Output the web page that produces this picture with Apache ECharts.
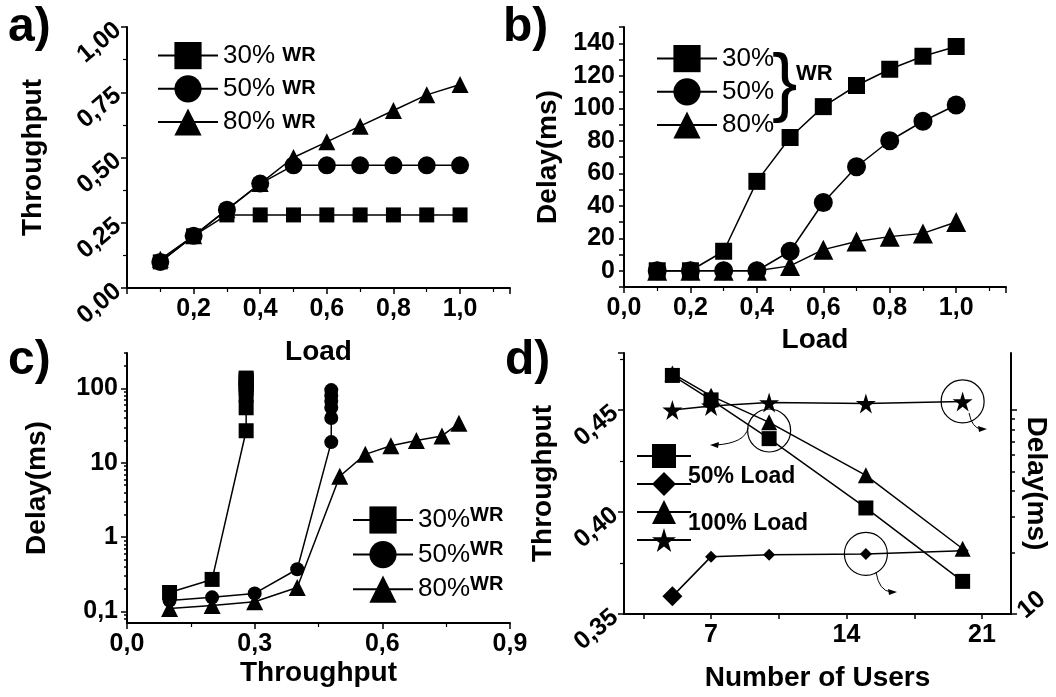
<!DOCTYPE html>
<html><head><meta charset="utf-8">
<script src="https://cdn.jsdelivr.net/npm/echarts@6/dist/echarts.min.js"></script>
<style>html,body{margin:0;padding:0;background:#fff}#c{width:1056px;height:697px}</style>
</head><body><div id="c"></div>
<script>
// ---------- DATA ----------
const loadValues = [0.1, 0.2, 0.3, 0.4, 0.5, 0.6, 0.7, 0.8, 0.9, 1.0];
// a) throughput vs load
const thrWR30 = [0.10, 0.20, 0.28, 0.28, 0.28, 0.28, 0.28, 0.28, 0.28, 0.28];
const thrWR50 = [0.10, 0.20, 0.30, 0.40, 0.47, 0.47, 0.47, 0.47, 0.47, 0.47];
const thrWR80 = [0.11, 0.20, 0.30, 0.40, 0.50, 0.56, 0.62, 0.68, 0.74, 0.78];
// b) delay vs load
const delayWR30 = [0, 0, 12, 55, 82, 101, 114, 124, 132, 138];
const delayWR50 = [0, 0, 0, 0, 12, 42, 64, 80, 92, 102];
const delayWR80 = [0, 0, 0, 0, 3, 13, 18, 21, 23, 30];
// c) delay vs throughput (log)
const cThr30 = [0.10, 0.20, 0.28, 0.28, 0.28, 0.28, 0.28, 0.28, 0.28, 0.28];
const cDel30 = [0.18, 0.27, 27, 55, 82, 101, 114, 124, 132, 138];
const cThr50 = [0.10, 0.20, 0.30, 0.40, 0.48, 0.48, 0.48, 0.48, 0.48, 0.48];
const cDel50 = [0.14, 0.155, 0.175, 0.37, 19, 40, 55, 68, 80, 95];
const cThr80 = [0.10, 0.20, 0.30, 0.40, 0.50, 0.56, 0.62, 0.68, 0.74, 0.78];
const cDel80 = [0.11, 0.12, 0.135, 0.21, 6.6, 13, 17, 20, 23, 34];
// d) number of users
const users = [5, 7, 10, 15, 20];
const thrLoad50 = [0.467, 0.455, 0.436, 0.402, 0.366];
const thrLoad100 = [0.468, 0.457, 0.444, 0.418, 0.382];
const delayLoad50 = [12.2, 19.1, 19.5, 19.7, 20.4];
const delayLoad100 = [100, 104.6, 108.6, 107.6, 110];
// tick labels
const dUserTicks = [7, 14, 21];
const dUserMinor = [3.5, 7, 10.5, 14, 17.5, 21];
const bDelayLabels = [0, 20, 40, 60, 80, 100, 120, 140];
const bDelayTicks = [-10, 0, 10, 20, 30, 40, 50, 60, 70, 80, 90, 100, 110, 120, 130, 140, 150];
const cLogLabels = [0.1, 1, 10, 100];
const cLogMinor = [0.08, 0.09, 0.2, 0.3, 0.4, 0.5, 0.6, 0.7, 0.8, 0.9, 2, 3, 4, 5, 6, 7, 8, 9, 20, 30, 40, 50, 60, 70, 80, 90, 200, 300];
const dLogLabels = [10];
const dLogMajor = [10, 100];
const dLogMinor = [20, 30, 40, 50, 60, 70, 80, 90];

// ---------- HELPERS ----------
const F = "'Liberation Sans', Arial, sans-serif";
const comma = (v, n) => Number(v).toFixed(n).replace('.', ',');
const STAR = 'path://M50,0 L61,35 L98,35 L68,57 L79,91 L50,70 L21,91 L32,57 L2,35 L39,35 Z';
function merge(a, b) {
  const o = Array.isArray(a) ? a.slice() : Object.assign({}, a);
  for (const k in b) {
    if (b[k] && typeof b[k] === 'object' && !Array.isArray(b[k]) && typeof b[k] !== 'function' && a && typeof a[k] === 'object') o[k] = merge(a[k], b[k]);
    else o[k] = b[k];
  }
  return o;
}
const baseAxis = {
  type: 'value',
  axisLine: { show: true, onZero: false, lineStyle: { color: '#000', width: 2 } },
  axisTick: { show: true, length: 6, lineStyle: { color: '#000', width: 1.5 } },
  minorTick: { show: true, splitNumber: 2, length: 4, lineStyle: { color: '#000', width: 1.2 } },
  axisLabel: { color: '#000', fontFamily: F, fontWeight: 'bold', fontSize: 25, margin: 9 },
  splitLine: { show: false },
  minorSplitLine: { show: false },
  nameLocation: 'middle',
  nameTextStyle: { color: '#000', fontFamily: F, fontWeight: 'bold', fontSize: 28 }
};
const ax = (extra) => merge(baseAxis, extra);
function lineSeries(name, xi, yi, data, symbol, size, extra) {
  return Object.assign({
    type: 'line', name, xAxisIndex: xi, yAxisIndex: yi, data,
    symbol, symbolSize: size, showSymbol: true,
    lineStyle: { color: '#000', width: 1.5 },
    itemStyle: { color: '#000' },
    emphasis: { disabled: true }, animation: false
  }, extra || {});
}
const pair = (xs, ys) => xs.map((x, i) => [x, ys[i]]);

const legendLabels = { a30: '30%', a50: '50%', a80: '80%', b30: '30%', b50: '50%', b80: '80%', c30: '30%', c50: '50%', c80: '80%' };
const legendBase = {
  orient: 'vertical', selectedMode: false, itemWidth: 60, itemHeight: 34, itemGap: 6,
  lineStyle: { width: 2 },
  textStyle: { color: '#000', fontFamily: F, fontSize: 26,
    rich: {
      n: { fontSize: 26, fontFamily: F, color: '#000' },
      w: { fontSize: 20, fontFamily: F, fontWeight: 'bold', color: '#000' },
      s: { fontSize: 20, fontFamily: F, fontWeight: 'bold', color: '#000', padding: [0, 0, 10, 0] }
    } }
};
const gridBase = { outerBoundsMode: 'none', containLabel: false };

const option = {
  animation: false,
  backgroundColor: '#fff',
  grid: [
    merge(gridBase, { left: 127, top: 27, width: 383, height: 261 }),
    merge(gridBase, { left: 624, top: 27, width: 382, height: 260 }),
    merge(gridBase, { left: 127, top: 353, width: 383, height: 270 }),
    merge(gridBase, { left: 624, top: 353, width: 387, height: 261 })
  ],
  xAxis: [
    ax({ gridIndex: 0, min: 0, max: 1.15, interval: 0.2, name: 'Load', nameGap: 50,
      axisLabel: { showMaxLabel: false, formatter: v => (v === 0 ? '' : comma(v, 1)) } }),
    ax({ gridIndex: 1, min: 0, max: 1.15, interval: 0.2, name: 'Load', nameGap: 39,
      axisLabel: { showMaxLabel: false, formatter: v => comma(v, 1) } }),
    ax({ gridIndex: 2, min: 0, max: 0.9, interval: 0.3, name: 'Throughput', nameGap: 36,
      axisLabel: { formatter: v => comma(v, 1) } }),
    ax({ gridIndex: 3, min: 2.5, max: 22.5, name: 'Number of Users', nameGap: 50,
      minorTick: { show: false },
      axisTick: { customValues: dUserMinor, length: 5 },
      axisLabel: { customValues: dUserTicks, formatter: v => String(v) } })
  ],
  yAxis: [
    ax({ gridIndex: 0, min: 0, max: 1, interval: 0.25, name: 'Throughput', nameGap: 80,
      axisLabel: { rotate: 40, formatter: v => comma(v, 2) } }),
    ax({ gridIndex: 1, min: -10, max: 150, name: 'Delay(ms)', nameGap: 62,
      minorTick: { show: false },
      axisTick: { customValues: bDelayTicks, length: 5 },
      axisLabel: { customValues: bDelayLabels, formatter: v => String(v) } }),
    ax({ gridIndex: 2, type: 'log', logBase: 10, min: 0.07, max: 300, name: 'Delay(ms)', nameGap: 76,
      minorTick: { show: false },
      axisTick: { customValues: cLogLabels },
      axisLabel: { customValues: cLogLabels, formatter: v => (v < 1 ? comma(v, 1) : String(Math.round(v))) } }),
    ax({ gridIndex: 2, type: 'log', logBase: 10, min: 0.07, max: 300, position: 'left',
      axisLine: { show: false }, minorTick: { show: false },
      axisTick: { customValues: cLogMinor, length: 3 }, axisLabel: { show: false } }),
    ax({ gridIndex: 3, min: 0.35, max: 0.478, interval: 0.05, name: 'Throughput', nameGap: 67, position: 'left',
      axisLabel: { rotate: 40, showMaxLabel: false, formatter: v => comma(v, 2) } }),
    ax({ gridIndex: 3, type: 'log', logBase: 10, min: 10, max: 190, position: 'right', name: 'Delay(ms)', nameGap: 11, nameRotate: -90,
      nameMoveOverlap: false,
      minorTick: { show: false },
      axisTick: { customValues: dLogMajor },
      axisLabel: { rotate: 40, margin: 10, customValues: dLogLabels, formatter: v => String(Math.round(v)) } }),
    ax({ gridIndex: 3, type: 'log', logBase: 10, min: 10, max: 190, position: 'right',
      axisLine: { show: false }, minorTick: { show: false },
      axisTick: { customValues: dLogMinor, length: 4 }, axisLabel: { show: false } })
  ],
  legend: [
    merge(legendBase, { left: 152, top: 37, data: ['a30', 'a50', 'a80'],
      formatter: n => '{n|' + legendLabels[n] + '} {w|WR}' }),
    merge(legendBase, { left: 651, top: 40, data: ['b30', 'b50', 'b80'],
      formatter: n => legendLabels[n] }),
    merge(legendBase, { left: 347, top: 500, data: ['c30', 'c50', 'c80'],
      formatter: n => '{n|' + legendLabels[n] + '}{s|WR}' }),
    merge(legendBase, { left: 631, top: 436, itemWidth: 54, itemHeight: 30, itemGap: 1,
      textStyle: { fontSize: 10 },
      data: ['d50t', 'd50d', 'd100t', 'd100d'], formatter: () => '' })
  ],
  series: [
    lineSeries('a30', 0, 0, pair(loadValues, thrWR30), 'rect', 15),
    lineSeries('a50', 0, 0, pair(loadValues, thrWR50), 'circle', 18),
    lineSeries('a80', 0, 0, pair(loadValues, thrWR80), 'triangle', 17),
    lineSeries('b30', 1, 1, pair(loadValues, delayWR30), 'rect', 17),
    lineSeries('b50', 1, 1, pair(loadValues, delayWR50), 'circle', 19),
    lineSeries('b80', 1, 1, pair(loadValues, delayWR80), 'triangle', 20),
    lineSeries('c30', 2, 2, pair(cThr30, cDel30), 'rect', 15),
    lineSeries('c50', 2, 2, pair(cThr50, cDel50), 'circle', 14),
    lineSeries('c80', 2, 2, pair(cThr80, cDel80), 'triangle', 17),
    lineSeries('d50t', 3, 4, pair(users, thrLoad50), 'rect', 15),
    lineSeries('d100t', 3, 4, pair(users, thrLoad100), 'triangle', 16, {
      markPoint: { silent: true, symbol: 'circle', symbolSize: 43, label: { show: false },
        itemStyle: { color: 'rgba(0,0,0,0)', borderColor: '#000', borderWidth: 1.2 },
        data: [{ coord: [10, 0.440] }] } }),
    lineSeries('d50d', 3, 5, pair(users, delayLoad50).map((p, i) => (i === 0 ? { value: p, symbolSize: 20 } : p)), 'diamond', 12, {
      markPoint: { silent: true, symbol: 'circle', symbolSize: 43, label: { show: false },
        itemStyle: { color: 'rgba(0,0,0,0)', borderColor: '#000', borderWidth: 1.2 },
        data: [{ coord: [15, 19.7] }] } }),
    lineSeries('d100d', 3, 5, pair(users, delayLoad100), STAR, 20, {
      markPoint: { silent: true, symbol: 'circle', symbolSize: 43, label: { show: false },
        itemStyle: { color: 'rgba(0,0,0,0)', borderColor: '#000', borderWidth: 1.2 },
        data: [{ coord: [20, 110] }] } })
  ],
  graphic: [
    { type: 'text', x: 8, y: 28, style: { text: 'a)', fontSize: 48, fontWeight: 'bold', fontFamily: F, fill: '#000', verticalAlign: 'middle' } },
    { type: 'text', x: 503, y: 28, style: { text: 'b)', fontSize: 48, fontWeight: 'bold', fontFamily: F, fill: '#000', verticalAlign: 'middle' } },
    { type: 'text', x: 8, y: 361, style: { text: 'c)', fontSize: 48, fontWeight: 'bold', fontFamily: F, fill: '#000', verticalAlign: 'middle' } },
    { type: 'text', x: 505, y: 361, style: { text: 'd)', fontSize: 48, fontWeight: 'bold', fontFamily: F, fill: '#000', verticalAlign: 'middle' } },
    { type: 'text', x: 772, y: 86, style: { text: '}', fontSize: 76, fontFamily: F, fill: '#000', verticalAlign: 'middle' } },
    { type: 'text', x: 796, y: 74, style: { text: 'WR', fontSize: 22, fontWeight: 'bold', fontFamily: F, fill: '#000', verticalAlign: 'middle' } },
    { type: 'text', x: 688, y: 477, style: { text: '50% Load', fontSize: 23, fontWeight: 'bold', fontFamily: F, fill: '#000', verticalAlign: 'middle' } },
    { type: 'text', x: 688, y: 524, style: { text: '100% Load', fontSize: 23, fontWeight: 'bold', fontFamily: F, fill: '#000', verticalAlign: 'middle' } },
    { type: 'bezierCurve', shape: { x1: 748, y1: 428, cpx1: 745, cpy1: 443, x2: 716, y2: 445 }, style: { stroke: '#000', lineWidth: 1, fill: null } },
    { type: 'polygon', shape: { points: [[710, 445], [719, 442], [718, 448]] }, style: { fill: '#000' } },
    { type: 'bezierCurve', shape: { x1: 969, y1: 413, cpx1: 972, cpy1: 428, x2: 981, y2: 429 }, style: { stroke: '#000', lineWidth: 1, fill: null } },
    { type: 'polygon', shape: { points: [[987, 429], [978, 426], [979, 432]] }, style: { fill: '#000' } },
    { type: 'bezierCurve', shape: { x1: 876, y1: 572, cpx1: 879, cpy1: 591, x2: 891, y2: 592 }, style: { stroke: '#000', lineWidth: 1, fill: null } },
    { type: 'polygon', shape: { points: [[897, 592], [888, 589], [889, 595]] }, style: { fill: '#000' } }
  ]
};
const chart = echarts.init(document.getElementById('c'), null, { renderer: 'canvas' });
chart.setOption(option);
</script>
</body></html>
